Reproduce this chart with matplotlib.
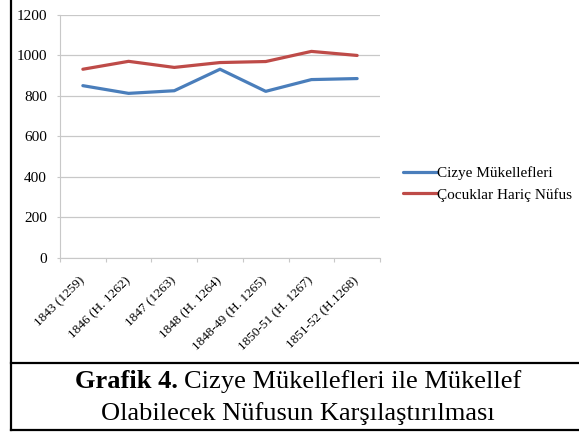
import matplotlib.pyplot as plt
from matplotlib.lines import Line2D
import numpy as np

plt.rcParams['font.family'] = ['Liberation Serif', 'DejaVu Serif']

years = ['1843 (1259)', '1846 (H. 1262)', '1847 (1263)', '1848 (H. 1264)',
         '1848-49 (H. 1265)', '1850-51 (H. 1267)', '1851-52 (H.1268)']
cizye = [850, 812, 825, 931, 822, 880, 885]
nufus = [931, 970, 940, 964, 969, 1019, 999]
series_names = ['Cizye Mükellefleri', 'Çocuklar Hariç Nüfus']

W, H = 579, 432
fig = plt.figure(figsize=(W / 100, H / 100), dpi=100)

ax = fig.add_axes([60 / W, 1 - 258 / H, 320 / W, 243.3 / H])
x = np.arange(len(years))
ax.plot(x, cizye, color='#4a7ebb', linewidth=2.3, label=series_names[0], solid_capstyle='round')
ax.plot(x, nufus, color='#be4b48', linewidth=2.3, label=series_names[1], solid_capstyle='round')

ax.set_xlim(-0.5, len(years) - 0.5)
ax.set_ylim(0, 1200)
ax.set_yticks(np.arange(0, 1201, 200))
ax.yaxis.grid(True, color='#c8c8c8', linewidth=0.9)
ax.set_axisbelow(True)
for s in ['top', 'right']:
    ax.spines[s].set_visible(False)
ax.spines['left'].set_color('#c8c8c8')
ax.spines['bottom'].set_color('#c8c8c8')
ax.tick_params(axis='y', colors='#c8c8c8', length=2.5, labelcolor='black', labelsize=11, pad=7)

# ticks between categories, labels at the centers
ax.set_xticks(np.arange(-0.5, len(years)), labels=[''] * (len(years) + 1))
ax.tick_params(axis='x', which='major', colors='#c8c8c8', length=3)
ax.set_xticks(x, labels=years, minor=True)
ax.tick_params(axis='x', which='minor', length=0, labelsize=9.5, pad=15)
for lab in ax.get_xticklabels(minor=True):
    lab.set_rotation(45)
    lab.set_ha('right')
    lab.set_va('center')
    lab.set_rotation_mode('anchor')

fig.legend(loc='center left', bbox_to_anchor=(403 / W, 1 - 184 / H), frameon=False,
           handlelength=2.2, handletextpad=0.0, fontsize=11, labelspacing=0.5,
           borderaxespad=0, borderpad=0)

# frame lines around chart and caption
lw = 1.6
fig.add_artist(Line2D([11 / W, 11 / W], [1 - 430 / H, 1], color='black', lw=lw))
fig.add_artist(Line2D([11 / W, 1], [1 - 363 / H, 1 - 363 / H], color='black', lw=lw))
fig.add_artist(Line2D([11 / W, 1], [1 - 430 / H, 1 - 430 / H], color='black', lw=lw))

# caption: bold prefix + normal text, centered together
cx = 298 / W
y1 = 1 - 388 / H
y2 = 1 - 420 / H
fs = 19
renderer = fig.canvas.get_renderer()
t_bold = fig.text(0, y1, 'Grafik 4. ', fontsize=fs, fontweight='bold', va='baseline')
t_rest = fig.text(0, y1, 'Cizye Mükellefleri ile Mükellef', fontsize=fs, va='baseline')
wb = t_bold.get_window_extent(renderer).width / W
wr = t_rest.get_window_extent(renderer).width / W
start = cx - (wb + wr) / 2
t_bold.set_x(start)
t_rest.set_x(start + wb)
fig.text(cx, y2, 'Olabilecek Nüfusun Karşılaştırılması', fontsize=fs, va='baseline', ha='center')

fig.savefig('out.png', dpi=100)
